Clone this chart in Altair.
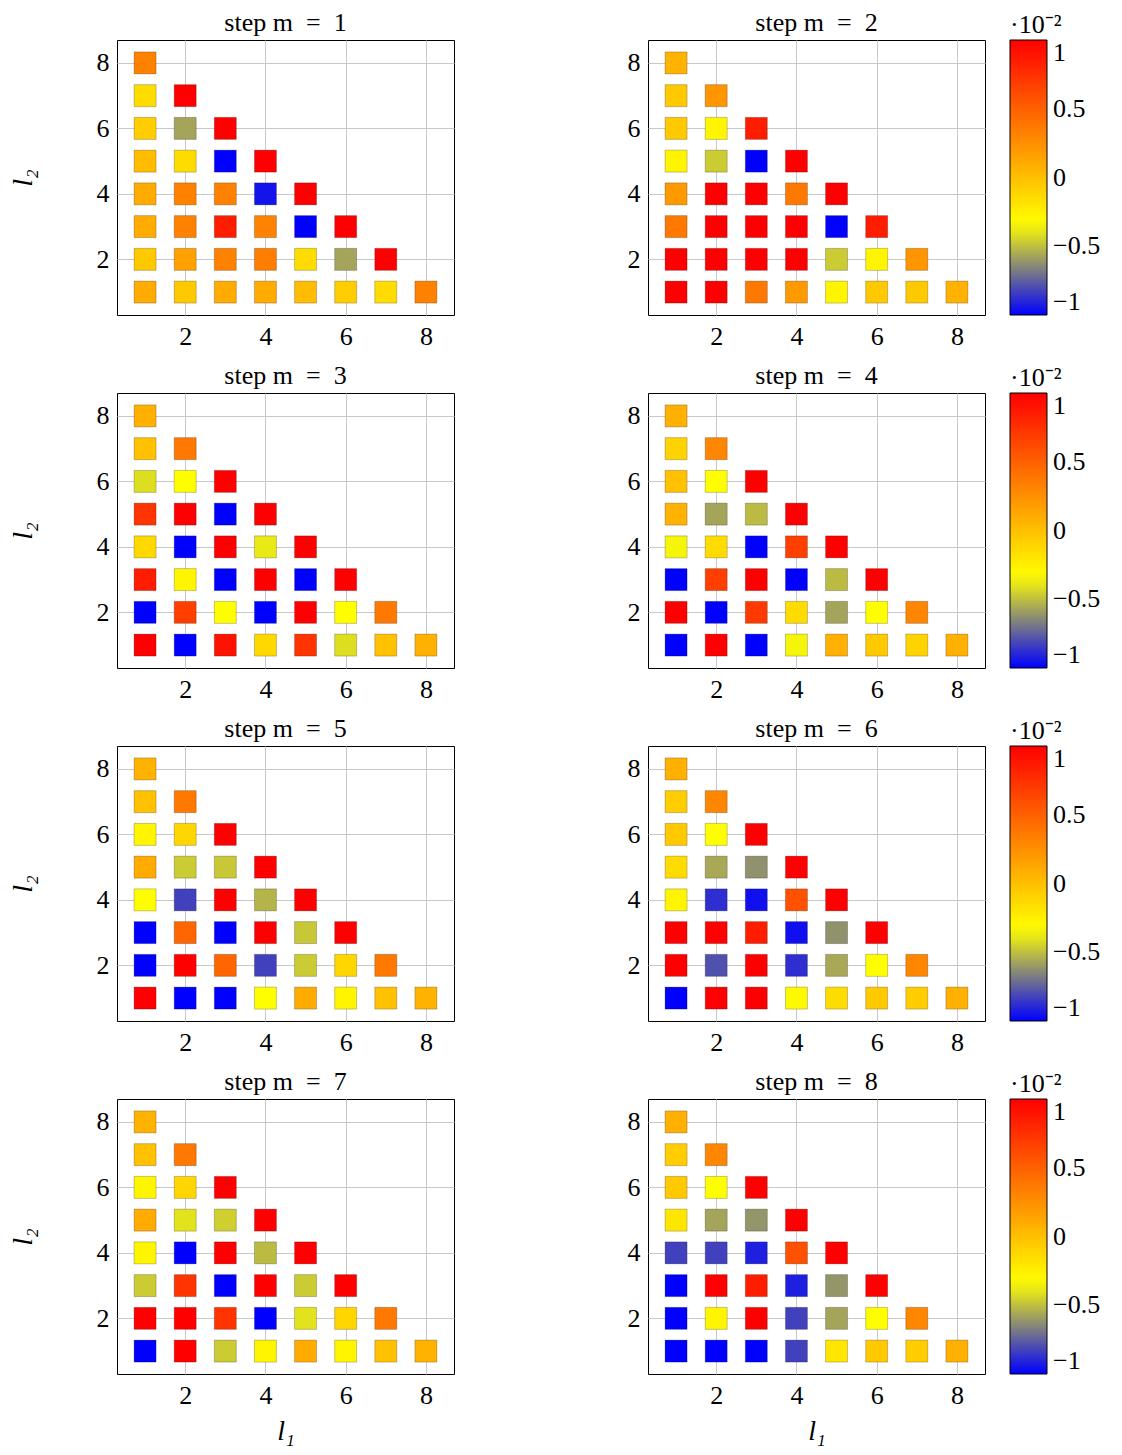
import altair as alt
import pandas as pd

# Values (x 10^-2), rows listed from l2 = 8 (top) down to l2 = 1 (bottom),
# each row from l1 = 1 to l1 = 9 - l2.
m1 = [[0.33],
      [-0.15, 1.0],
      [-0.07, -0.57, 1.0],
      [0.02, -0.15, -1.0, 1.0],
      [0.11, 0.33, 0.33, -0.95, 1.0],
      [0.11, 0.33, 0.85, 0.32, -1.0, 1.0],
      [-0.05, 0.16, 0.33, 0.35, -0.15, -0.57, 1.0],
      [0.11, -0.05, 0.11, 0.11, 0.02, -0.07, -0.15, 0.33]]
m2 = [[0.07],
      [-0.05, 0.22],
      [-0.05, -0.28, 0.85],
      [-0.28, -0.47, -1.0, 1.0],
      [0.2, 1.0, 1.0, 0.37, 1.0],
      [0.37, 1.0, 1.0, 1.0, -1.0, 0.85],
      [1.0, 1.0, 1.0, 1.0, -0.47, -0.28, 0.22],
      [1.0, 1.0, 0.37, 0.2, -0.28, -0.05, -0.05, 0.07]]
m3 = [[0.08],
      [-0.01, 0.37],
      [-0.42, -0.33, 1.0],
      [0.73, 1.0, -1.0, 1.0],
      [-0.13, -1.0, 1.0, -0.39, 1.0],
      [0.85, -0.28, -1.0, 1.0, -1.0, 1.0],
      [-1.0, 0.67, -0.33, -1.0, 1.0, -0.33, 0.37],
      [1.0, -1.0, 0.9, -0.13, 0.73, -0.42, -0.01, 0.08]]
m4 = [[0.08],
      [-0.1, 0.3],
      [-0.01, -0.33, 1.0],
      [0.07, -0.57, -0.51, 1.0],
      [-0.36, -0.15, -1.0, 0.67, 1.0],
      [-1.0, 0.67, 1.0, -1.0, -0.51, 1.0],
      [1.0, -1.0, 0.7, -0.15, -0.57, -0.33, 0.3],
      [-1.0, 1.0, -1.0, -0.36, 0.08, -0.05, -0.1, 0.08]]
m5 = [[0.07],
      [-0.01, 0.37],
      [-0.28, -0.12, 1.0],
      [0.11, -0.47, -0.48, 1.0],
      [-0.33, -0.83, 1.0, -0.53, 1.0],
      [-1.0, 0.47, -1.0, 1.0, -0.48, 1.0],
      [-1.0, 1.0, 0.47, -0.83, -0.47, -0.12, 0.37],
      [1.0, -1.0, -1.0, -0.33, 0.11, -0.28, -0.01, 0.07]]
m6 = [[0.08],
      [-0.07, 0.3],
      [-0.05, -0.33, 1.0],
      [-0.15, -0.56, -0.62, 1.0],
      [-0.28, -0.88, -0.96, 0.58, 1.0],
      [1.0, 1.0, 0.85, -0.96, -0.62, 1.0],
      [1.0, -0.79, 1.0, -0.88, -0.56, -0.33, 0.3],
      [-1.0, 1.0, 1.0, -0.3, -0.15, -0.05, -0.07, 0.08]]
m7 = [[0.07],
      [-0.01, 0.37],
      [-0.28, -0.12, 1.0],
      [0.11, -0.41, -0.46, 1.0],
      [-0.28, -1.0, 1.0, -0.51, 1.0],
      [-0.47, 0.73, -1.0, 1.0, -0.47, 1.0],
      [1.0, 1.0, 0.73, -1.0, -0.41, -0.12, 0.37],
      [-1.0, 1.0, -0.47, -0.28, 0.11, -0.28, -0.01, 0.07]]
m8 = [[0.08],
      [-0.07, 0.3],
      [-0.05, -0.33, 1.0],
      [-0.2, -0.57, -0.61, 1.0],
      [-0.83, -0.83, -0.92, 0.58, 1.0],
      [-1.0, 1.0, 0.85, -0.92, -0.61, 1.0],
      [-1.0, -0.28, 1.0, -0.83, -0.57, -0.33, 0.3],
      [-1.0, -1.0, -1.0, -0.83, -0.2, -0.05, -0.07, 0.08]]

steps = [1, 2, 3, 4, 5, 6, 7, 8]
panels = [m1, m2, m3, m4, m5, m6, m7, m8]
x_ticks = [2, 4, 6, 8]
y_ticks = [2, 4, 6, 8]
cbar_ticks = [-1, -0.5, 0, 0.5, 1]

records = []
for m, rows in zip(steps, panels):
    for i, row in enumerate(rows):
        l2 = 8 - i
        for j, v in enumerate(row):
            records.append({"m": m, "l1": j + 1, "l2": l2, "v": v})
df = pd.DataFrame(records)

FONT = "Liberation Serif"
cmap_domain = [-1, -1 / 3, 1 / 3, 1]
fill_range = ["#0000ff", "#ffff00", "#ff8000", "#ff0000"]

W, H = 337, 275
FS = 26
HSPACE = 171


def panel(m, left, bottom):
    return (
        alt.Chart(df)
        .transform_filter(alt.datum.m == m)
        .mark_square(size=484, filled=True, stroke="black", strokeOpacity=0.22,
                     strokeWidth=1, opacity=1)
        .encode(
            x=alt.X("l1:Q",
                    scale=alt.Scale(domain=[0.3, 8.7], nice=False, zero=False),
                    axis=alt.Axis(values=x_ticks, title="l₁" if bottom else None,
                                  titleFontStyle="italic", titleFontWeight="normal",
                                  titleFontSize=28, titlePadding=9)),
            y=alt.Y("l2:Q",
                    scale=alt.Scale(domain=[0.3, 8.7], nice=False, zero=False),
                    axis=alt.Axis(values=y_ticks, title="l₂" if left else None,
                                  titleFontStyle="italic", titleFontWeight="normal",
                                  titleFontSize=28, titlePadding=59)),
            color=alt.Color("v:Q",
                            scale=alt.Scale(domain=cmap_domain, range=fill_range,
                                            interpolate="rgb", clamp=True),
                            legend=alt.Legend(type="gradient", title="·10⁻²",
                                              values=cbar_ticks,
                                              format=".1~f", orient="none",
                                              legendX=2 * W + HSPACE + 48,
                                              legendY=-28,
                                              direction="vertical",
                                              gradientLength=H, gradientThickness=37,
                                              gradientStrokeColor="black",
                                              gradientStrokeWidth=1,
                                              labelFont=FONT, labelFontSize=FS,
                                              labelColor="black", labelOffset=6,
                                              labelOverlap=False,
                                              titleFont=FONT, titleFontSize=FS,
                                              titleFontWeight="normal",
                                              titleColor="black", titlePadding=2)),
        )
        .properties(width=W, height=H,
                    title=alt.TitleParams(f"step m\u2002=\u2002{m}", font=FONT,
                                          fontSize=FS, fontWeight="normal",
                                          color="black", offset=4))
    )


rows = []
for r in range(4):
    ma, mb = steps[2 * r], steps[2 * r + 1]
    bottom = r == 3
    rows.append(alt.hconcat(panel(ma, True, bottom), panel(mb, False, bottom),
                            spacing=HSPACE))

chart = (
    alt.vconcat(*rows, spacing=12)
    .resolve_scale(color="independent")
    .properties(background="white",
                padding={"left": 0, "top": 1, "right": 5, "bottom": 0})
    .configure_view(stroke="black", strokeWidth=1)
    .configure_axis(grid=True, gridColor="#c8c8c8", gridWidth=1, domain=False,
                    ticks=False, labelFont=FONT, labelFontSize=FS, labelColor="black",
                    labelPadding=8, titleFont=FONT, titleColor="black")
)

chart.save("out.html", embed_options={"renderer": "svg", "actions": False})
